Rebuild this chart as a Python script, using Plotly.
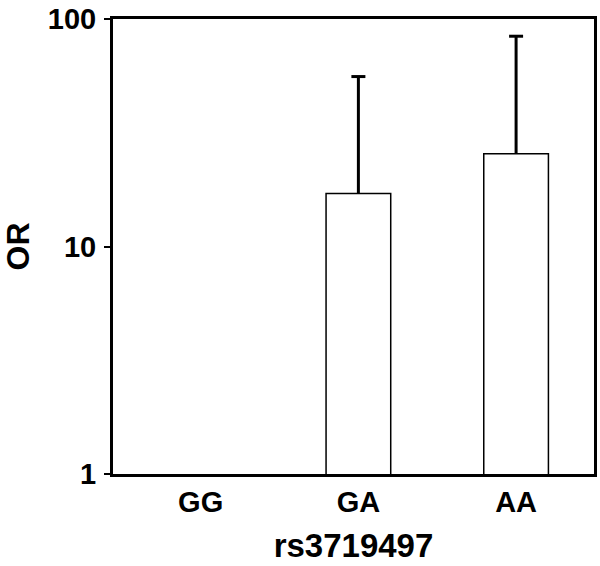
import plotly.graph_objects as go

genotypes = ["GG", "GA", "AA"]
odds_ratio = [1.0, 17.1, 25.6]
ci_upper = [None, 55.9, 84.1]

ytick_vals = [1, 10, 100]
ytick_text = ["1", "10", "100"]

FONT = "Liberation Sans, Arial, sans-serif"

fig = go.Figure()

# the reference bar at OR=1 has no height, so no outline for it
fig.add_trace(go.Bar(
    x=genotypes, y=odds_ratio,
    width=0.41,
    marker=dict(color="white",
                line=dict(color="black", width=[0 if v <= 1 else 1.5 for v in odds_ratio])),
    hoverinfo="x+y",
))

# upper error bars only: cap marker at the upper limit, stem down to the bar top
err_x = [g for g, u in zip(genotypes, ci_upper) if u is not None]
err_top = [u for u in ci_upper if u is not None]
err_len = [u - v for v, u in zip(odds_ratio, ci_upper) if u is not None]

fig.add_trace(go.Scatter(
    x=err_x, y=err_top,
    mode="markers",
    marker=dict(symbol="line-ew", size=10, line=dict(color="black", width=3)),
    error_y=dict(type="data", symmetric=False, array=[0] * len(err_top),
                 arrayminus=err_len, width=0, thickness=3, color="black"),
    hoverinfo="skip",
))

fig.update_layout(
    width=600, height=566,
    margin=dict(l=109, r=3, t=15, b=92),
    paper_bgcolor="white", plot_bgcolor="white",
    showlegend=False,
    font=dict(family=FONT, color="black", size=28, weight="bold"),
)

fig.update_xaxes(
    type="category",
    range=[-0.556, 2.494],
    showline=True, linecolor="black", linewidth=3, mirror=True,
    ticks="", showgrid=False, zeroline=False,
    tickfont=dict(size=29, weight="bold"),
    ticklabelstandoff=0,
    title=dict(text="rs3719497", font=dict(size=33, weight="bold"), standoff=18),
)

fig.update_yaxes(
    type="log",
    range=[0, 2.0005],
    tickvals=ytick_vals, ticktext=ytick_text,
    showline=True, linecolor="black", linewidth=3, mirror=True,
    ticks="outside", ticklen=6, tickwidth=2, tickcolor="black",
    showgrid=False, zeroline=False,
    tickfont=dict(size=29, weight="bold"),
    ticklabelstandoff=2, ticklabeloverflow="allow",
    title=dict(text="OR", font=dict(size=32, weight="bold"), standoff=22),
)

# drop the default 8px body margin so the figure fills the window
fig.write_html("out.html", config={"displayModeBar": False},
               post_script="document.body.style.margin='0';")
